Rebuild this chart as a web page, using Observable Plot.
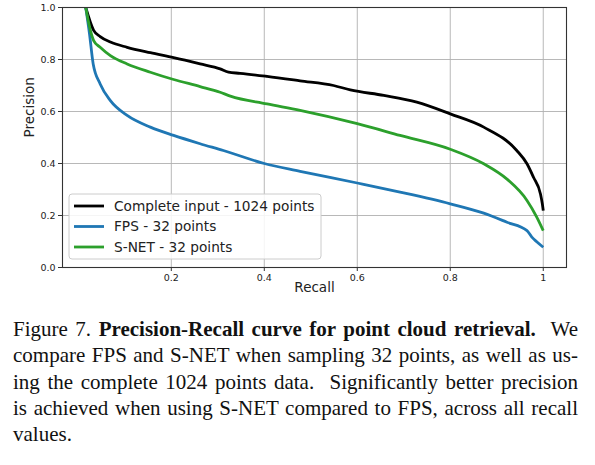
<!DOCTYPE html>
<html>
<head>
<meta charset="utf-8">
<script src="https://cdn.jsdelivr.net/npm/d3@7"></script>
<script src="https://cdn.jsdelivr.net/npm/@observablehq/plot@0.6"></script>
<style>
  html, body { margin: 0; padding: 0; background: white; }
  #chart svg { display: block; }
  #caption {
    margin-left: 13px; margin-top: 11px; width: 565px;
    font-family: "Liberation Serif", "Times New Roman", serif;
    font-size: 21px; line-height: 26.25px; color: #111;
  }
  #caption .ln { text-align: justify; text-align-last: justify; }
  #caption .last { text-align: left; text-align-last: left; }
</style>
</head>
<body>
<div id="chart"></div>
<div id="caption"></div>
<script>
// ---- data ----
const seriesNames = ["Complete input - 1024 points", "FPS - 32 points", "S-NET - 32 points"];
const seriesColors = ["#000000", "#1f77b4", "#2ca02c"];

const completeRecall    = [0.016, 0.033, 0.047, 0.069, 0.105, 0.155, 0.205, 0.262, 0.305, 0.323, 0.348, 0.406, 0.477, 0.549, 0.585, 0.657, 0.728, 0.800, 0.872, 0.943, 0.965, 0.979, 0.994, 0.998, 1.000];
const completePrecision = [1.000, 0.912, 0.888, 0.867, 0.847, 0.826, 0.807, 0.783, 0.764, 0.751, 0.747, 0.735, 0.718, 0.700, 0.683, 0.662, 0.636, 0.591, 0.540, 0.450, 0.399, 0.347, 0.283, 0.245, 0.219];

const fpsRecall    = [0.016, 0.024, 0.032, 0.047, 0.069, 0.105, 0.155, 0.205, 0.262, 0.312, 0.400, 0.477, 0.600, 0.692, 0.800, 0.872, 0.922, 0.965, 0.975, 0.986, 1.000];
const fpsPrecision = [1.000, 0.900, 0.783, 0.706, 0.642, 0.585, 0.540, 0.508, 0.476, 0.450, 0.400, 0.370, 0.325, 0.290, 0.245, 0.209, 0.174, 0.142, 0.118, 0.099, 0.078];

const snetRecall    = [0.016, 0.026, 0.033, 0.047, 0.069, 0.105, 0.155, 0.205, 0.262, 0.305, 0.327, 0.406, 0.477, 0.600, 0.692, 0.800, 0.872, 0.922, 0.965, 0.986, 1.000];
const snetPrecision = [1.000, 0.912, 0.873, 0.847, 0.815, 0.783, 0.751, 0.723, 0.696, 0.674, 0.659, 0.629, 0.604, 0.553, 0.508, 0.455, 0.399, 0.340, 0.258, 0.194, 0.142];

const xTicks = [0.2, 0.4, 0.6, 0.8, 1.0];
const yTicks = [0.0, 0.2, 0.4, 0.6, 0.8, 1.0];
const xLabel = "Recall";
const yLabel = "Precision";

const captionLines = [
  'Figure 7. <b>Precision-Recall curve for point cloud retrieval.</b>&nbsp; We',
  'compare FPS and S-NET when sampling 32 points, as well as us-',
  'ing the complete 1024 points data.&nbsp; Significantly better precision',
  'is achieved when using S-NET compared to FPS, across all recall',
  'values.'
];

// ---- build ----
const toRows = (rs, ps) => rs.map((r, i) => ({recall: r, precision: ps[i]}));
const allSeries = [
  toRows(completeRecall, completePrecision),
  toRows(fpsRecall, fpsPrecision),
  toRows(snetRecall, snetPrecision)
];

const lineMarks = allSeries.map((rows, i) =>
  Plot.line(rows, {x: "recall", y: "precision", stroke: seriesColors[i], strokeWidth: 2.8,
    curve: "monotone-x", strokeLinejoin: "round", strokeLinecap: "butt"}));

const chart = Plot.plot({
  width: 595, height: 305,
  marginLeft: 62, marginRight: 29, marginTop: 7, marginBottom: 38,
  x: {domain: [-0.034, 1.05]},
  y: {domain: [0, 1]},
  style: {fontFamily: "DejaVu Sans", fontSize: "9.5px", background: "white", color: "#222", overflow: "visible"},
  marks: [
    Plot.gridX(xTicks, {stroke: "#b0b0b0", strokeOpacity: 1, strokeWidth: 0.9}),
    Plot.gridY(yTicks, {stroke: "#b0b0b0", strokeOpacity: 1, strokeWidth: 0.9}),
    ...lineMarks,
    Plot.frame({stroke: "#333", strokeWidth: 1.1}),
    Plot.axisX(xTicks, {tickSize: 4, tickPadding: 3, label: null, stroke: "#333",
      tickFormat: d => d === 1 ? "1" : d.toFixed(1)}),
    Plot.axisY(yTicks, {tickSize: 4, tickPadding: 3, label: null, stroke: "#333",
      tickFormat: d => d.toFixed(1)}),
    Plot.text([xLabel], {text: d => d, frameAnchor: "bottom", dy: 24, fontSize: 13.5, fill: "#222"}),
    Plot.text([yLabel], {text: d => d, frameAnchor: "left", rotate: -90, dx: -33, fontSize: 13.5, fill: "#222"})
  ]
});
document.getElementById("chart").appendChild(chart);

// legend (inside the axes, lower-left)
const svg = d3.select(chart);
const lg = svg.append("g").attr("font-family", "DejaVu Sans").attr("font-size", "13.7px").attr("text-anchor", "start");
lg.append("rect").attr("x", 69).attr("y", 194).attr("width", 252).attr("height", 65)
  .attr("rx", 3).attr("fill", "white").attr("fill-opacity", 0.85).attr("stroke", "#cccccc").attr("stroke-width", 1);
seriesNames.forEach((name, i) => {
  const yy = 206 + i * 20.5;
  lg.append("line").attr("x1", 74).attr("x2", 104).attr("y1", yy).attr("y2", yy)
    .attr("stroke", seriesColors[i]).attr("stroke-width", 2.8);
  lg.append("text").attr("x", 114).attr("y", yy).attr("dy", "0.36em").attr("text-anchor", "start")
    .attr("fill", "#222").text(name);
});

// caption
const cap = document.getElementById("caption");
captionLines.forEach((t, i) => {
  const d = document.createElement("div");
  d.className = "ln" + (i === captionLines.length - 1 ? " last" : "");
  d.innerHTML = t;
  cap.appendChild(d);
});
</script>
</body>
</html>
